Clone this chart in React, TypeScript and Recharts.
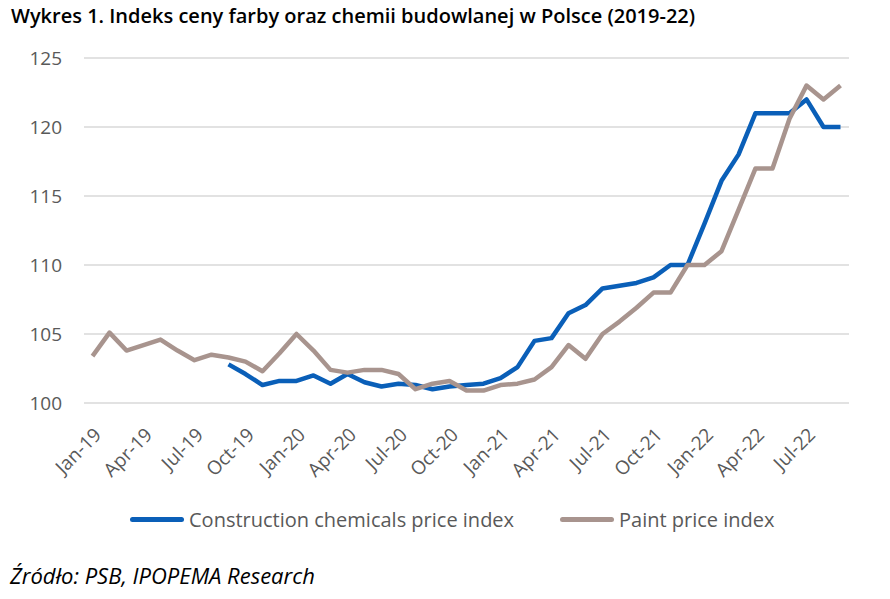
import React from "react";
import { LineChart, Line, XAxis, YAxis, CartesianGrid } from "recharts";

// monthly categories, Jan-19 .. Sep-22
const months = [
  "Jan-19", "Feb-19", "Mar-19", "Apr-19", "May-19", "Jun-19", "Jul-19", "Aug-19", "Sep-19", "Oct-19", "Nov-19", "Dec-19",
  "Jan-20", "Feb-20", "Mar-20", "Apr-20", "May-20", "Jun-20", "Jul-20", "Aug-20", "Sep-20", "Oct-20", "Nov-20", "Dec-20",
  "Jan-21", "Feb-21", "Mar-21", "Apr-21", "May-21", "Jun-21", "Jul-21", "Aug-21", "Sep-21", "Oct-21", "Nov-21", "Dec-21",
  "Jan-22", "Feb-22", "Mar-22", "Apr-22", "May-22", "Jun-22", "Jul-22", "Aug-22", "Sep-22",
];

// construction chemicals index starts in Sep-19
const chemicals = [
  null, null, null, null, null, null, null, null, 102.8, 102.1, 101.3, 101.6,
  101.6, 102.0, 101.4, 102.1, 101.5, 101.2, 101.4, 101.3, 101.0, 101.2, 101.3, 101.4,
  101.8, 102.6, 104.5, 104.7, 106.5, 107.1, 108.3, 108.5, 108.7, 109.1, 110.0, 110.0,
  113.0, 116.1, 118.0, 121.0, 121.0, 121.0, 122.0, 120.0, 120.0,
];

const paint = [
  103.4, 105.1, 103.8, 104.2, 104.6, 103.8, 103.1, 103.5, 103.3, 103.0, 102.3, 103.6,
  105.0, 103.8, 102.4, 102.2, 102.4, 102.4, 102.1, 101.0, 101.4, 101.6, 100.9, 100.9,
  101.3, 101.4, 101.7, 102.6, 104.2, 103.2, 105.0, 105.9, 106.9, 108.0, 108.0, 110.0,
  110.0, 111.0, 114.0, 117.0, 117.0, 120.6, 123.0, 122.0, 123.0,
];

const yTicks = [100, 105, 110, 115, 120, 125];
const labelTicks = [0, 3, 6, 9, 12, 15, 18, 21, 24, 27, 30, 33, 36, 39, 42];
const boundaryTicks = [-0.5, 2.5, 5.5, 8.5, 11.5, 14.5, 17.5, 20.5, 23.5, 26.5, 29.5, 32.5, 35.5, 38.5, 41.5, 44.5];

const data = months.map((m, i) => ({ i, month: m, chem: chemicals[i], paint: paint[i] }));

const BLUE = "#0a5fb8";
const TAUPE = "#a8948e";
const GREY = "#595959";
const FONT = "'Open Sans', sans-serif";

const MonthTick = (props: any) => {
  const { x, y, payload } = props;
  return (
    <g transform={`translate(${x + 10},${y + 33})`}>
      <text textAnchor="end" transform="rotate(-45)" fill={GREY} fontSize={19} fontFamily={FONT}>
        {months[payload.value]}
      </text>
    </g>
  );
};

function LegendItem({ color, label, left }: { color: string; label: string; left: number }) {
  return (
    <div style={{ position: "absolute", left, top: 0, display: "flex", alignItems: "center", whiteSpace: "nowrap" }}>
      <div style={{ width: 54, height: 5, borderRadius: 3, background: color, marginRight: 5 }} />
      <span style={{ color: GREY, fontSize: 20 }}>{label}</span>
    </div>
  );
}

export default function App() {
  return (
    <div style={{ position: "absolute", left: 0, top: 0, width: 890, height: 599, background: "#fff", fontFamily: FONT }}>
      <div style={{ position: "absolute", left: 11, top: 2, fontSize: 20, fontWeight: 600, color: "#000", whiteSpace: "nowrap" }}>
        Wykres 1. Indeks ceny farby oraz chemii budowlanej w Polsce (2019-22)
      </div>

      <LineChart width={890} height={500} data={data} margin={{ top: 58, right: 41, left: 24, bottom: 0 }}>
        <CartesianGrid horizontal vertical={false} stroke="#d9d9d9" strokeWidth={1.3} />
        <XAxis
          xAxisId="marks"
          dataKey="i"
          type="number"
          domain={[-0.5, 44.5]}
          ticks={boundaryTicks}
          height={0}
          tick={false}
          tickSize={5}
          stroke="#d0d0d0"
          strokeWidth={1.3}
        />
        <XAxis
          xAxisId="labels"
          dataKey="i"
          type="number"
          domain={[-0.5, 44.5]}
          ticks={labelTicks}
          interval={0}
          height={97}
          axisLine={false}
          tickLine={false}
          tickSize={0}
          tickMargin={0}
          tick={<MonthTick />}
        />
        <YAxis
          domain={[100, 125]}
          ticks={yTicks}
          width={60}
          axisLine={false}
          tickLine={false}
          tickMargin={16}
          tick={{ fill: GREY, fontSize: 19, fontFamily: FONT }}
        />
        <Line
          xAxisId="marks"
          dataKey="chem"
          stroke={BLUE}
          strokeWidth={4.5}
          dot={false}
          strokeLinejoin="round"
          isAnimationActive={false}
        />
        <Line
          xAxisId="marks"
          dataKey="paint"
          stroke={TAUPE}
          strokeWidth={4.5}
          dot={false}
          strokeLinejoin="round"
          isAnimationActive={false}
        />
      </LineChart>

      <div style={{ position: "absolute", left: 0, top: 506, width: 890, height: 30 }}>
        <LegendItem color={BLUE} label="Construction chemicals price index" left={130} />
        <LegendItem color={TAUPE} label="Paint price index" left={560} />
      </div>

      <div style={{ position: "absolute", left: 10, top: 560, fontSize: 22, fontStyle: "italic", color: "#000", whiteSpace: "nowrap" }}>
        Źródło: PSB, IPOPEMA Research
      </div>
    </div>
  );
}
